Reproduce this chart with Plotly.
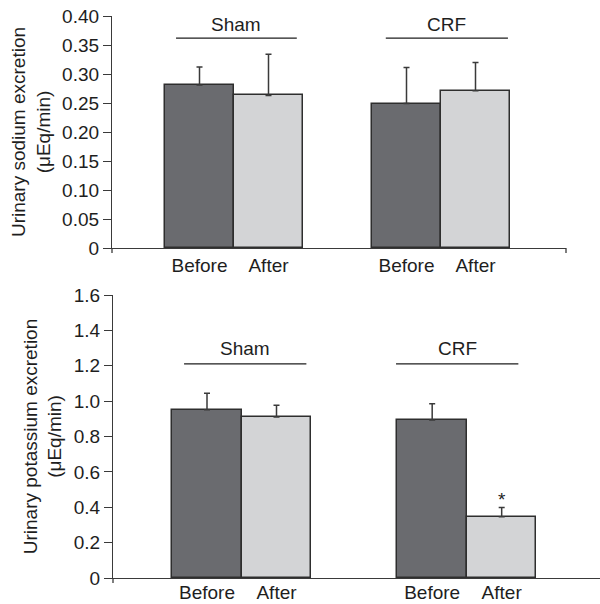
import plotly.graph_objects as go

# ---- data ----
groups = ["Sham", "CRF"]
phases = ["Before", "After"]
sodium_mean = {"Sham": [0.281, 0.263], "CRF": [0.249, 0.271]}
sodium_sem = {"Sham": [0.031, 0.071], "CRF": [0.062, 0.049]}
potassium_mean = {"Sham": [0.951, 0.910], "CRF": [0.893, 0.346]}
potassium_sem = {"Sham": [0.094, 0.067], "CRF": [0.092, 0.053]}
sodium_ticks = [0, 0.05, 0.10, 0.15, 0.20, 0.25, 0.30, 0.35, 0.40]
sodium_ticktext = ["0", "0.05", "0.10", "0.15", "0.20", "0.25", "0.30", "0.35", "0.40"]
potassium_ticks = [0, 0.2, 0.4, 0.6, 0.8, 1.0, 1.2, 1.4, 1.6]
potassium_ticktext = ["0", "0.2", "0.4", "0.6", "0.8", "1.0", "1.2", "1.4", "1.6"]

# ---- style ----
FONT = "Liberation Sans, Arial, sans-serif"
TXT = "#1e1e1e"
DARK = "#6a6b6f"
LIGHT = "#d3d4d6"
EDGE = "#2e2e2e"
AX = "#3a3a3a"
FS = 19

fig = go.Figure()

panels = [
    dict(xa="x", ya="y", mean=sodium_mean, sem=sodium_sem, gpos={"Sham": 0.0, "CRF": 3.0},
         line_y=0.362, text_y=0.386, line_off={"Sham": (-0.34, 1.41), "CRF": (-0.30, 1.47)}),
    dict(xa="x2", ya="y2", mean=potassium_mean, sem=potassium_sem, gpos={"Sham": 0.0, "CRF": 3.24},
         line_y=1.211, text_y=1.295, line_off={"Sham": (-0.33, 1.43), "CRF": (-0.52, 1.24)}),
]

for p in panels:
    for i, ph in enumerate(phases):
        xs = [p["gpos"][g] + i for g in groups]
        ys = [p["mean"][g][i] for g in groups]
        es = [p["sem"][g][i] for g in groups]
        fig.add_trace(go.Bar(
            x=xs, y=ys, width=1.0, xaxis=p["xa"], yaxis=p["ya"],
            marker=dict(color=DARK if i == 0 else LIGHT, line=dict(color=EDGE, width=1.5)),
            error_y=dict(type="data", symmetric=False, array=es, arrayminus=[0] * len(es),
                         color=AX, thickness=1.5, width=3),
            showlegend=False, hoverinfo="skip"))
    for g in groups:
        a, b = p["line_off"][g]
        x0 = p["gpos"][g] + a
        x1 = p["gpos"][g] + b
        fig.add_shape(type="line", xref=p["xa"], yref=p["ya"], x0=x0, x1=x1,
                      y0=p["line_y"], y1=p["line_y"], line=dict(color=TXT, width=1.3))
        fig.add_annotation(xref=p["xa"], yref=p["ya"], x=(x0 + x1) / 2, y=p["text_y"],
                           text=g, showarrow=False, font=dict(family=FONT, size=FS, color=TXT))

# asterisk on CRF After (potassium)
crf_after_x = panels[1]["gpos"]["CRF"] + 1
fig.add_annotation(xref="x2", yref="y2", x=crf_after_x,
                   y=potassium_mean["CRF"][1] + potassium_sem["CRF"][1],
                   text="*", showarrow=False, yanchor="bottom", yshift=-5,
                   font=dict(family=FONT, size=FS, color=TXT))

W, H = 600, 604
# pixel geometry
top_x0, top_x1, top_y0, top_y1 = 112, 566, 16, 248
bot_x0, bot_x1, bot_y0, bot_y1 = 113, 600, 295, 578
top_unit, bot_unit = 69.0, 69.5
top_c0, bot_c0 = 199.5, 207.0


def xrange(x0, x1, c0, unit):
    return [(x0 - c0) / unit, (x1 - c0) / unit]


def xticks(gpos):
    vals, txt = [], []
    for g in groups:
        for i, ph in enumerate(phases):
            vals.append(gpos[g] + i)
            txt.append(ph)
    return vals, txt


tv1, tt1 = xticks(panels[0]["gpos"])
tv2, tt2 = xticks(panels[1]["gpos"])

common_x = dict(showgrid=False, zeroline=False, showline=True, linecolor=AX, linewidth=1.3,
                ticks="", tickfont=dict(family=FONT, size=FS, color=TXT), fixedrange=True,
                automargin=False)
common_y = dict(showgrid=False, zeroline=False, showline=True, linecolor=AX, linewidth=1.3,
                ticks="outside", ticklen=8, tickwidth=1.3, tickcolor=AX,
                tickfont=dict(family=FONT, size=FS, color=TXT), fixedrange=True,
                automargin=False)

fig.update_layout(
    width=W, height=H, margin=dict(l=0, r=0, t=0, b=0),
    paper_bgcolor="white", plot_bgcolor="white",
    font=dict(family=FONT, size=FS, color=TXT),
    bargap=0,
    xaxis=dict(common_x, domain=[top_x0 / W, top_x1 / W], anchor="y",
               range=xrange(top_x0, top_x1, top_c0, top_unit), tickvals=tv1, ticktext=tt1),
    yaxis=dict(common_y, domain=[1 - top_y1 / H, 1 - top_y0 / H], anchor="x",
               range=[0, 0.4], tickvals=sodium_ticks, ticktext=sodium_ticktext,
               title=dict(text="Urinary sodium excretion<br>(μEq/min)", standoff=6,
                          font=dict(family=FONT, size=FS, color=TXT))),
    xaxis2=dict(common_x, domain=[bot_x0 / W, bot_x1 / W], anchor="y2",
                range=xrange(bot_x0, bot_x1, bot_c0, bot_unit), tickvals=tv2, ticktext=tt2,
                ticklabelstandoff=-3),
    yaxis2=dict(common_y, domain=[1 - bot_y1 / H, 1 - bot_y0 / H], anchor="x2",
                range=[0, 1.6], tickvals=potassium_ticks, ticktext=potassium_ticktext,
                title=dict(text="Urinary potassium excretion<br>(μEq/min)", standoff=6,
                           font=dict(family=FONT, size=FS, color=TXT))),
)

# small end ticks on x axes
tick_px = 5
for xpx, ypx in [(top_x0, top_y1), (top_x1, top_y1), (bot_x0, bot_y1)]:
    fig.add_shape(type="line", xref="paper", yref="paper", x0=xpx / W, x1=xpx / W,
                  y0=1 - ypx / H, y1=1 - (ypx + tick_px) / H, line=dict(color=AX, width=1.3))

fig.write_html("out.html", config={"displayModeBar": False},
               post_script="document.body.style.margin='0';document.body.style.overflow='hidden';")
